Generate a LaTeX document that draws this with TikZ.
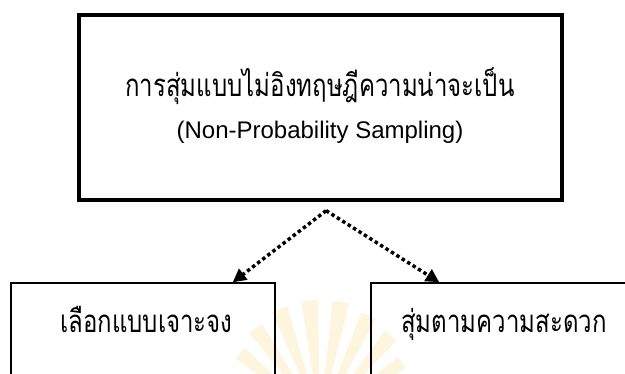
\documentclass[tikz,border=0pt]{standalone}
\usepackage{fontspec}
\setmainfont{Liberation Sans}
\newfontfamily\thai[Script=Thai]{Loma}
\usetikzlibrary{arrows.meta,calc}
\definecolor{wm1}{HTML}{FBEDC2}
\newcommand{\tallthai}[1]{\scalebox{1}[1.3]{\thai #1}}
\begin{document}
\begin{tikzpicture}[x=0.75pt,y=-0.75pt,
  topbox/.style={draw=black,line width=3pt,minimum width=362.25pt,minimum height=138.75pt,inner sep=0pt},
  subbox/.style={draw=black,line width=1.1pt,inner sep=0pt},
  thaitext/.style={font=\fontsize{18pt}{21pt}\selectfont,inner sep=0pt,anchor=base},
  lattext/.style={font=\fontsize{18pt}{21pt}\selectfont,inner sep=0pt},
  dotarrow/.style={line width=2.6pt,dash pattern=on 2.6pt off 2.2pt,-{Triangle[length=10pt,width=10pt]}}]
\useasboundingbox (0,0) rectangle (625,374);
% faint watermark
\foreach \a/\r in {35/100,50/110,65/115,80/120,95/120,110/118,125/112,140/104}{
  \fill[wm1,opacity=0.55] (320,420) -- ++(-\a+4:\r) arc[start angle=-\a+4,end angle=-\a-4,radius=\r] -- cycle;
}
% boxes
\node[topbox] (top) at (320.5,107.5) {};
\node[thaitext] (t1) at (320,97) {\tallthai{การสุ่มแบบไม่อิงทฤษฎีความน่าจะเป็น}};
\node[lattext] (t2) at (320,132) {(Non-Probability Sampling)};
\node[subbox,minimum width=198pt,minimum height=102.75pt] (lb) at (143,351.5) {};
\node[subbox,minimum width=231.75pt,minimum height=102.75pt] (rb) at (525.5,351.5) {};
\node[thaitext] (lt) at (146.5,332) {\tallthai{เลือกแบบเจาะจง}};
\node[thaitext] (rt) at (504,332) {\tallthai{สุ่มตามความสะดวก}};
% connectors
\coordinate (apex) at ($(top.south)+(4.2pt,-6.5pt)$);
\draw[dotarrow] (apex) -- ([xshift=-32.25pt]lb.north east);
\draw[dotarrow] (apex) -- ([xshift=51.75pt]rb.north west);
\end{tikzpicture}
\end{document}
